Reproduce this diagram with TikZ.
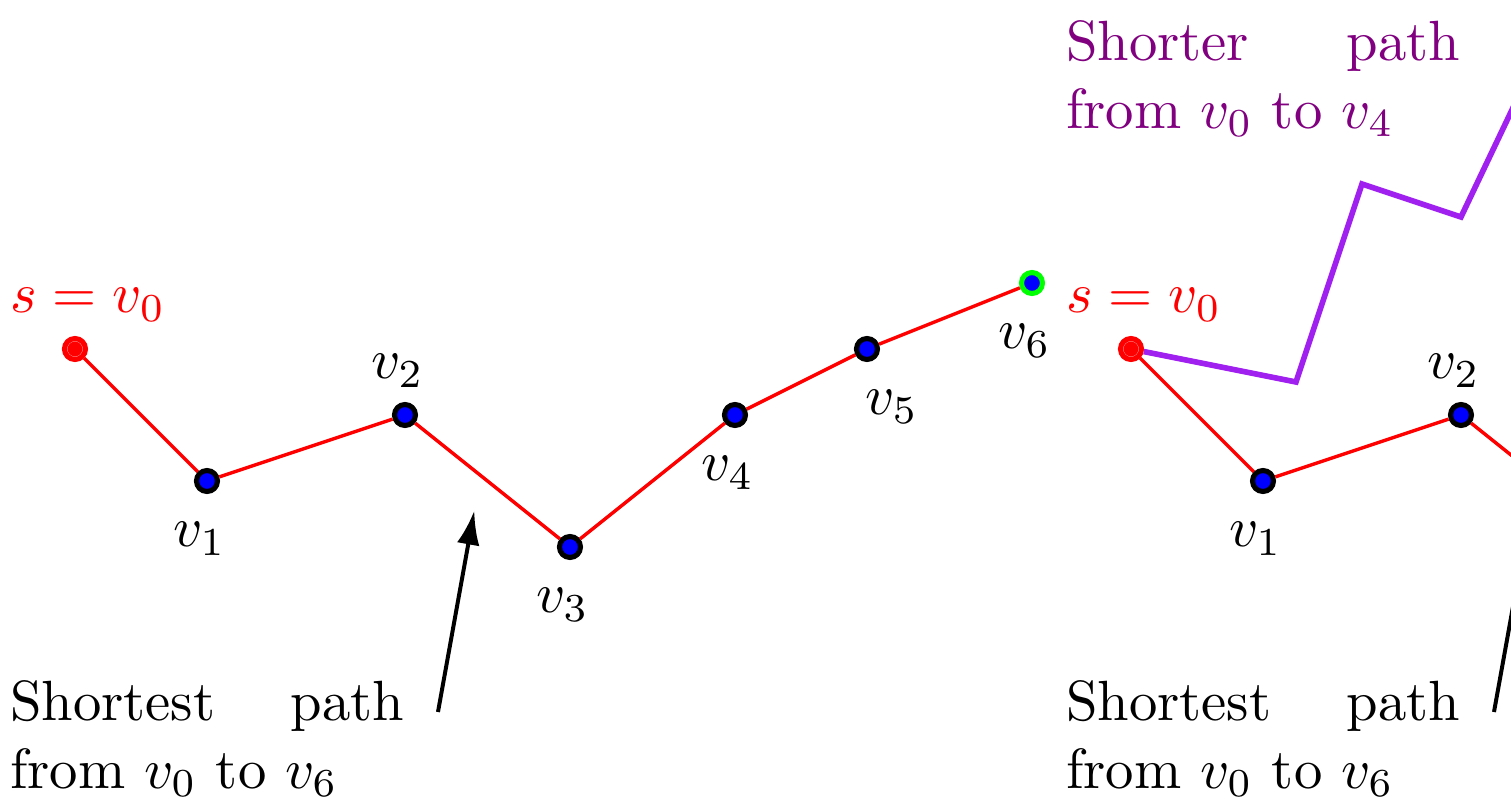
\documentclass[tikz,border=0pt]{standalone}
\usepackage{amsmath}
\usetikzlibrary{arrows.meta,positioning}
\definecolor{pathviolet}{RGB}{160,32,240}
\definecolor{notepurple}{RGB}{128,0,128}
\tikzset{
  >=Latex,
  vx/.style={circle,draw=black,fill=blue,line width=0.9pt,inner sep=0pt,minimum size=3.7pt},
  src/.style={vx,draw=red,fill=red,
    path picture={\draw[red!35,line width=0.15pt] (path picture bounding box.center) circle (1.4pt);}},
  dst/.style={vx,draw=green},
  sp/.style={red, line width=0.6pt},
  alt/.style={pathviolet, line width=1pt},
  note/.style={text width=69.5pt, align=justify, inner sep=0pt, anchor=north west},
  ptr/.style={-{Latex[length=6pt,width=4pt]}, line width=0.7pt}
}

\begin{document}
\begin{tikzpicture}[x=11.64pt,y=11.64pt]
    \useasboundingbox (-1.136,-6.864) rectangle (21.758,5.288);
    \clip (-1.136,-6.864) rectangle (21.758,5.288);

    % === Left panel: shortest path ===
    \node[src] (a0) at (0,0) {};
    \foreach \i/\x/\y in {1/2/-2, 2/5/-1, 3/7.5/-3, 4/10/-1, 5/12/0} {
        \node[vx] (a\i) at (\x,\y) {};
    }
    \node[dst] (a6) at (14.5,1) {};
    \foreach \i [count=\j] in {0,...,5} {
        \draw[sp] (a\i) -- (a\j);
    }

    % Labels
    \node[red, above=-0.9pt of a0, xshift=2.3pt] (la0) {$s=v_0$};
    \foreach \i in {1,3,4,6} {
        \node[below=1.5pt of a\i, xshift=-1.3pt] (la\i) {$v_\i$};
    }
    \node[above=-0.9pt of a2, xshift=-1.3pt] (la2) {$v_2$};
    \node[below=1.5pt of a5, xshift=4.4pt] (la5) {$v_5$};

    % Note and pointer
    \node[note] (ta) at (-1,-5.0) {Shortest path from $v_0$ to $v_6$};
    \coordinate (pa0) at (5.5,-5.5);
    \coordinate (pa1) at (6.05,-2.45);
    \draw[ptr] (pa0) -- (pa1);

    % === Right panel: same path, plus a shorter one ===
    \begin{scope}[shift={(16,0)}]
    \node[src] (b0) at (0,0) {};
    \foreach \i/\x/\y in {1/2/-2, 2/5/-1, 3/7.5/-3, 4/10/-1, 5/12/0} {
        \node[vx] (b\i) at (\x,\y) {};
    }
    \node[dst] (b6) at (14.5,1) {};
    \foreach \i [count=\j] in {0,...,5} {
        \draw[sp] (b\i) -- (b\j);
    }

    % Labels
    \node[red, above=-0.9pt of b0, xshift=2.3pt] (lb0) {$s=v_0$};
    \foreach \i in {1,3,4,6} {
        \node[below=1.5pt of b\i, xshift=-1.3pt] (lb\i) {$v_\i$};
    }
    \node[above=-0.9pt of b2, xshift=-1.3pt] (lb2) {$v_2$};
    \node[below=1.5pt of b5, xshift=4.4pt] (lb5) {$v_5$};

    % Shorter path (purple)
    \coordinate (c1) at (2.5,-0.5);
    \coordinate (c2) at (3.5,2.5);
    \coordinate (c3) at (5,2);
    \coordinate (c4) at (6,4.1);
    \draw[alt] (b0) -- (c1) -- (c2) -- (c3) -- (c4) -- (b4);
    \node[note, text=notepurple] (tc) at (-1,5.0) {Shorter path from $v_0$ to $v_4$};

    % Note and pointer
    \node[note] (tb) at (-1,-5.0) {Shortest path from $v_0$ to $v_6$};
    \coordinate (pb0) at (5.5,-5.5);
    \coordinate (pb1) at (6.05,-2.45);
    \draw[ptr] (pb0) -- (pb1);
    \end{scope}

\end{tikzpicture}
\end{document}
